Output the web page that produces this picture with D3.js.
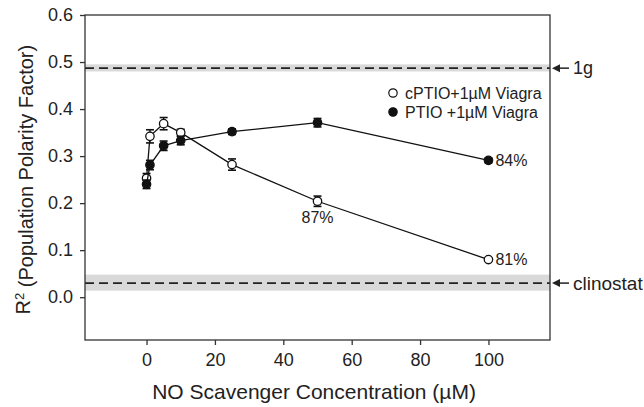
<!DOCTYPE html>
<html lang="en">
<head>
<meta charset="UTF-8">
<title>R2 vs NO scavenger</title>
<script src="https://d3js.org/d3.v7.min.js"></script>
<style>
  body { margin: 0; background: #fff; }
  text { font-family: "Liberation Sans", Arial, sans-serif; fill: #222; }
</style>
</head>
<body>
<div id="chart"></div>
<script>
// data
const conc = [0, 1, 5, 10, 25, 50, 100];
const cptio = [0.253, 0.342, 0.369, 0.350, 0.282, 0.204, 0.080];
const cptioErr = [0.010, 0.014, 0.013, 0.007, 0.012, 0.011, 0.003];
const ptio = [0.240, 0.281, 0.322, 0.333, 0.352, 0.371, 0.291];
const ptioErr = [0.009, 0.010, 0.010, 0.009, 0.006, 0.009, 0.005];
const xTicks = [0, 20, 40, 60, 80, 100];
const yTicks = [0, 0.1, 0.2, 0.3, 0.4, 0.5, 0.6];
// reference levels: [label, mean, band low, band high]
const refs = [["1g", 0.487, 0.480, 0.495], ["clinostat", 0.030, 0.014, 0.048]];
const notes = [["cptio", 50, "87%"], ["cptio", 100, "81%"], ["ptio", 100, "84%"]];

const width = 644, height = 407;
const m = { left: 85, top: 15, right: 94, bottom: 67 };
const svg = d3.select("#chart").append("svg")
    .attr("width", width).attr("height", height);

const x = d3.scaleLinear().domain([-18, 118]).range([m.left, width - m.right]);
const y = d3.scaleLinear().domain([-0.091, 0.6]).range([height - m.bottom, m.top]);

// gray bands + dashed reference lines
refs.forEach(r => {
  svg.append("rect")
    .attr("x", x(-18)).attr("width", x(118) - x(-18))
    .attr("y", y(r[3])).attr("height", y(r[2]) - y(r[3]))
    .attr("fill", "#d9d9d9");
  svg.append("line")
    .attr("x1", x(-18)).attr("x2", x(118))
    .attr("y1", y(r[1])).attr("y2", y(r[1]))
    .attr("stroke", "#222").attr("stroke-width", 1.8)
    .attr("stroke-dasharray", "9,5");
  // arrow pointing at the frame
  const ay = y(r[1]);
  const ax = x(118) + 2;
  svg.append("line").attr("x1", ax + 4).attr("x2", ax + 17)
    .attr("y1", ay).attr("y2", ay).attr("stroke", "#222").attr("stroke-width", 1.5);
  svg.append("path")
    .attr("d", `M${ax},${ay} L${ax + 8},${ay - 4} L${ax + 8},${ay + 4} Z`)
    .attr("fill", "#222");
  svg.append("text").attr("x", ax + 21).attr("y", ay)
    .attr("dy", "0.35em")
    .style("font-size", r[0] === "1g" ? "18px" : "19px")
    .text(r[0]);
});

// frame
svg.append("rect")
  .attr("x", x(-18)).attr("y", y(0.6))
  .attr("width", x(118) - x(-18)).attr("height", y(-0.091) - y(0.6))
  .attr("fill", "none").attr("stroke", "#333").attr("stroke-width", 1.3);

// axes
const xAxis = svg.append("g")
  .attr("transform", `translate(0,${height - m.bottom})`)
  .call(d3.axisBottom(x).tickValues(xTicks).tickSize(5).tickPadding(8));
const yAxis = svg.append("g")
  .attr("transform", `translate(${m.left},0)`)
  .call(d3.axisLeft(y).tickValues(yTicks).tickFormat(d3.format(".1f")).tickSize(5).tickPadding(7));
[xAxis, yAxis].forEach(a => {
  a.select(".domain").remove();
  a.selectAll(".tick line").attr("stroke", "#333").attr("stroke-width", 1.3);
  a.selectAll(".tick text").style("font-size", "18px")
    .style("font-family", "'Liberation Sans', Arial, sans-serif").attr("fill", "#222");
});

// axis titles
svg.append("text")
  .attr("x", x(49)).attr("y", 399)
  .attr("text-anchor", "middle").style("font-size", "21px")
  .text("NO Scavenger Concentration (\u00b5M)");
const yl = svg.append("text")
  .attr("transform", `translate(30,${y(0.25)}) rotate(-90)`)
  .attr("text-anchor", "middle").style("font-size", "20px");
yl.append("tspan").text("R");
yl.append("tspan").attr("dy", "-0.45em").style("font-size", "13px").text("2");
yl.append("tspan").attr("dy", "0.45em").text(" (Population Polarity Factor)");

// series
const series = [
  { key: "cptio", vals: cptio, err: cptioErr, fill: "#fff" },
  { key: "ptio", vals: ptio, err: ptioErr, fill: "#111" }
];
const line = d3.line().x(d => x(d[0])).y(d => y(d[1]));

series.forEach(s => {
  const pts = conc.map((c, i) => [c, s.vals[i], s.err[i]]);
  svg.append("path").datum(pts).attr("d", line)
    .attr("fill", "none").attr("stroke", "#111").attr("stroke-width", 1.3);
  const g = svg.append("g");
  pts.forEach(p => {
    const cx = x(p[0]);
    g.append("line").attr("x1", cx).attr("x2", cx)
      .attr("y1", y(p[1] + p[2])).attr("y2", y(p[1] - p[2]))
      .attr("stroke", "#111").attr("stroke-width", 1.3);
    [p[1] + p[2], p[1] - p[2]].forEach(v => {
      g.append("line").attr("x1", cx - 4).attr("x2", cx + 4)
        .attr("y1", y(v)).attr("y2", y(v))
        .attr("stroke", "#111").attr("stroke-width", 1.6);
    });
  });
  g.selectAll("circle").data(pts).join("circle")
    .attr("cx", d => x(d[0])).attr("cy", d => y(d[1])).attr("r", 4.2)
    .attr("fill", s.fill).attr("stroke", "#111").attr("stroke-width", 1.3);
});

// percent notes
notes.forEach(n => {
  const vals = n[0] === "cptio" ? cptio : ptio;
  const v = vals[conc.indexOf(n[1])];
  const t = svg.append("text").style("font-size", "16px").text(n[2]);
  if (n[1] === 50) {
    t.attr("x", x(n[1])).attr("y", y(v) + 22).attr("text-anchor", "middle");
  } else {
    t.attr("x", x(n[1]) + 7).attr("y", y(v)).attr("dy", "0.35em");
  }
});

// legend
const legend = [["cPTIO+1\u00b5M Viagra", "#fff"], ["PTIO +1\u00b5M Viagra", "#111"]];
legend.forEach((l, i) => {
  const ly = 93 + i * 19;
  svg.append("circle").attr("cx", 393).attr("cy", ly).attr("r", 4.2)
    .attr("fill", l[1]).attr("stroke", "#111").attr("stroke-width", 1.2);
  svg.append("text").attr("x", 405).attr("y", ly).attr("dy", "0.35em")
    .style("font-size", "16px").text(l[0]);
});
</script>
</body>
</html>
